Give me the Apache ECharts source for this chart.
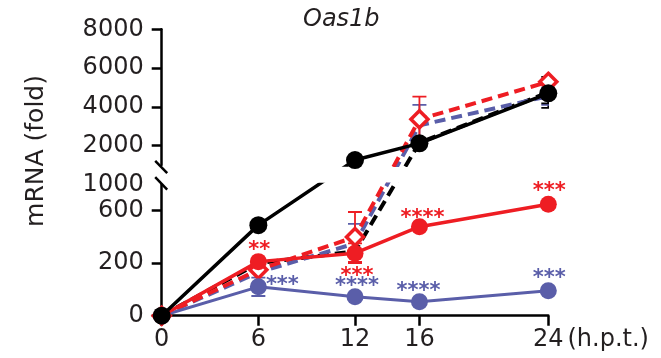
<!DOCTYPE html>
<html><head><meta charset="utf-8">
<script src="https://cdn.jsdelivr.net/npm/echarts@6/dist/echarts.min.js"></script>
<style>html,body{margin:0;padding:0;background:#fff}#c{width:661px;height:358px}</style>
</head><body><div id="c"></div>
<script>
// ---- data ----
const hours = [0, 6, 12, 16, 24];
const xTicks = [0, 6, 12, 16, 24];
const lowerTicks = [0, 200, 600];
const lowerTickLabels = [0, 200, 600, 1000];
const upperTicks = [2000, 4000, 6000, 8000];

const blackSolid = [0, 490, 1260, 2120, 4700];
const blackSolidErr = [0, 0, 0, 0, 515];
const blackDashed = [0, 200, 290, 2150, 4750];
const blackDashedErr = [0, 0, 87, 0, 800];
const blueDashed = [0, 165, 350, 3050, 4550];
const blueDashedErr = [0, 0, 150, 1050, 450];
const redDashed = [0, 175, 400, 3360, 5290];
const redDashedErr = [0, 0, 190, 1165, 0];
const redSolid = [0, 212, 276, 478, 698];
const redSolidErr = [0, 0, 75, 0, 0];
const blueSolid = [0, 110, 72, 53, 95];
const blueSolidErr = [0, 35, 0, 0, 0];
const redStars = ['', '**', '***', '****', '***'];
const blueStars = ['', '***', '****', '****', '***'];

// ---- broken / segmented axis scale ----
const LOW_V = [0, 200, 600, 1000], LOW_U = [0, 1, 2, 2.5];
const UP_V0 = 1000, UP_V1 = 8000, UP_U0 = 2.869, UP_K = 0.3695 / 1000;
function D(v) {
  if (v <= LOW_V[LOW_V.length - 1]) {
    for (let i = 1; i < LOW_V.length; i++) {
      if (v <= LOW_V[i]) return LOW_U[i - 1] + (v - LOW_V[i - 1]) / (LOW_V[i] - LOW_V[i - 1]) * (LOW_U[i] - LOW_U[i - 1]);
    }
  }
  return UP_U0 + (v - UP_V0) * UP_K;
}
const PX = 52.5, BASE = 315.7;
const lowTop = BASE - LOW_U[3] * PX, lowH = LOW_U[3] * PX;
const upTop = BASE - D(UP_V1) * PX, upH = (D(UP_V1) - UP_U0) * PX;

const RED = '#ee1d23', BLUE = '#5a5ea9', BLACK = '#000', TXT = '#231f20';
const FONT = 'DejaVu Sans';

function labelFor(list) {
  return function (u) {
    let best = list[0], bd = 1e9;
    list.forEach(v => { const d = Math.abs(D(v) - u); if (d < bd) { bd = d; best = v; } });
    return String(best);
  };
}

const defs = [
  { vals: blackDashed, err: blackDashedErr, color: BLACK, dashed: true, symbol: 'none', size: 0 },
  { vals: blueDashed, err: blueDashedErr, color: BLUE, dashed: true, symbol: 'none', size: 0 },
  { vals: redDashed, err: redDashedErr, color: RED, dashed: true, symbol: 'diamond', size: 17, open: true },
  { vals: blueSolid, err: blueSolidErr, color: BLUE, symbol: 'circle', size: 17, lw: 3, stars: blueStars,
    starOff: [[0, 0], [24, -1.7], [2, -10], [-1, -10], [1, -12.4]] },
  { vals: redSolid, err: redSolidErr, color: RED, symbol: 'circle', size: 17, stars: redStars,
    starOff: [[0, 0], [1, -10.7], [2, 23.4], [3, -8.4], [1, -12.6]] },
  { vals: blackSolid, err: blackSolidErr, color: BLACK, symbol: 'circle', size: 18 }
];

const series = [];
const errData = [];
const errColors = [];
defs.forEach((d, k) => {
  errColors.push(d.color);
  d.vals.forEach((v, i) => {
    if (d.err[i] > 0) errData.push([hours[i], D(Math.max(0, v - d.err[i])), D(v + d.err[i]), k]);
  });
});
function errSeries(g) {
  return {
    type: 'custom', xAxisIndex: g, yAxisIndex: g, clip: true, z: 1, silent: true,
    data: errData,
    renderItem: function (params, api) {
      const x = api.value(0), lo = api.value(1), hi = api.value(2);
      const c = errColors[api.value(3)];
      const pl = api.coord([x, lo]), ph = api.coord([x, hi]);
      const w = 7, st = { stroke: c, lineWidth: 1.8 };
      return { type: 'group', children: [
        { type: 'line', shape: { x1: pl[0], y1: pl[1], x2: ph[0], y2: ph[1] }, style: st },
        { type: 'line', shape: { x1: ph[0] - w, y1: ph[1], x2: ph[0] + w, y2: ph[1] }, style: st },
        { type: 'line', shape: { x1: pl[0] - w, y1: pl[1], x2: pl[0] + w, y2: pl[1] }, style: st }
      ] };
    }
  };
}
series.push(errSeries(0), errSeries(1));
[0, 1].forEach(g => {
  defs.forEach(d => {
    const data = d.vals.map((v, i) => {
      const item = { value: [hours[i], D(v)] };
      if (g === 1 && d.stars && d.stars[i]) {
        item.label = { show: true, formatter: d.stars[i], position: 'inside', offset: d.starOff[i],
          color: d.color, fontSize: 21, fontWeight: 'bold', fontFamily: FONT };
      }
      return item;
    });
    series.push({
      type: 'line', xAxisIndex: g, yAxisIndex: g, clip: true, z: 2, silent: true,
      data: data,
      symbol: d.symbol, symbolSize: d.size, showSymbol: d.symbol !== 'none',
      lineStyle: { color: d.color, width: d.lw || (d.dashed ? 4 : 3.5), type: d.dashed ? [11, 6] : 'solid' },
      itemStyle: d.open ? { color: '#fff', borderColor: d.color, borderWidth: 3.5 } : { color: d.color },
      label: { show: false }
    });
  });
});

const axisLineStyle = { color: BLACK, width: 2.5 };
const labelStyle = { fontSize: 24, fontFamily: FONT, color: TXT };

const option = {
  animation: false,
  backgroundColor: '#fff',
  title: { text: 'Oas1b', left: 298, top: 3,
    textStyle: { fontStyle: 'italic', fontWeight: 'normal', fontSize: 24, fontFamily: FONT, color: TXT } },
  grid: [
    { left: 161.7, right: 661 - 548.3, top: upTop, height: upH },
    { left: 161.7, right: 661 - 548.3, top: lowTop, height: lowH }
  ],
  xAxis: [
    { gridIndex: 0, type: 'value', min: 0, max: 24, show: false },
    { gridIndex: 1, type: 'value', min: 0, max: 24,
      axisLine: { show: true, onZero: false, lineStyle: axisLineStyle },
      axisTick: { show: true, length: 10, customValues: xTicks, lineStyle: axisLineStyle },
      axisLabel: Object.assign({ customValues: xTicks, margin: 12 }, labelStyle),
      splitLine: { show: false },
      name: '(h.p.t.)', nameLocation: 'end', nameGap: 18,
      nameTextStyle: Object.assign({ verticalAlign: 'top', padding: [12, 0, 0, 0] }, labelStyle) }
  ],
  yAxis: [
    { gridIndex: 0, type: 'value', min: UP_U0, max: D(UP_V1),
      axisLine: { show: true, onZero: false, lineStyle: axisLineStyle },
      axisTick: { show: true, length: 10, customValues: upperTicks.map(D), lineStyle: axisLineStyle },
      axisLabel: Object.assign({ customValues: upperTicks.map(D), margin: 18, formatter: labelFor(upperTicks) }, labelStyle),
      splitLine: { show: false } },
    { gridIndex: 1, type: 'value', min: 0, max: LOW_U[3],
      axisLine: { show: true, onZero: false, lineStyle: axisLineStyle },
      axisTick: { show: true, length: 10, customValues: lowerTicks.map(D), lineStyle: axisLineStyle },
      axisLabel: Object.assign({ customValues: lowerTickLabels.map(D), margin: 18, formatter: labelFor(lowerTickLabels) }, labelStyle),
      splitLine: { show: false } }
  ],
  series: series
};

const chart = echarts.init(document.getElementById('c'), null, { renderer: 'canvas' });
chart.setOption(option);

// axis-break marks and y-axis title
const pUp = chart.convertToPixel({ xAxisIndex: 0, yAxisIndex: 0 }, [0, UP_U0]);
const pLow = chart.convertToPixel({ xAxisIndex: 1, yAxisIndex: 1 }, [0, LOW_U[3]]);
const slash = (cx, cy) => ({ type: 'line', z: 10,
  shape: { x1: cx - 6, y1: cy - 6.2, x2: cx + 6, y2: cy + 6.2 },
  style: { stroke: BLACK, lineWidth: 2.5 } });
chart.setOption({
  graphic: [
    slash(pUp[0] - 0.5, pUp[1] + 1.9),
    slash(pLow[0] - 0.5, pLow[1] - 1.1),
    { type: 'text', x: 36, y: 151, rotation: Math.PI / 2,
      style: { text: 'mRNA (fold)', fontSize: 25, fontFamily: FONT, fill: TXT, align: 'center', verticalAlign: 'middle' } }
  ]
});
</script></body></html>
